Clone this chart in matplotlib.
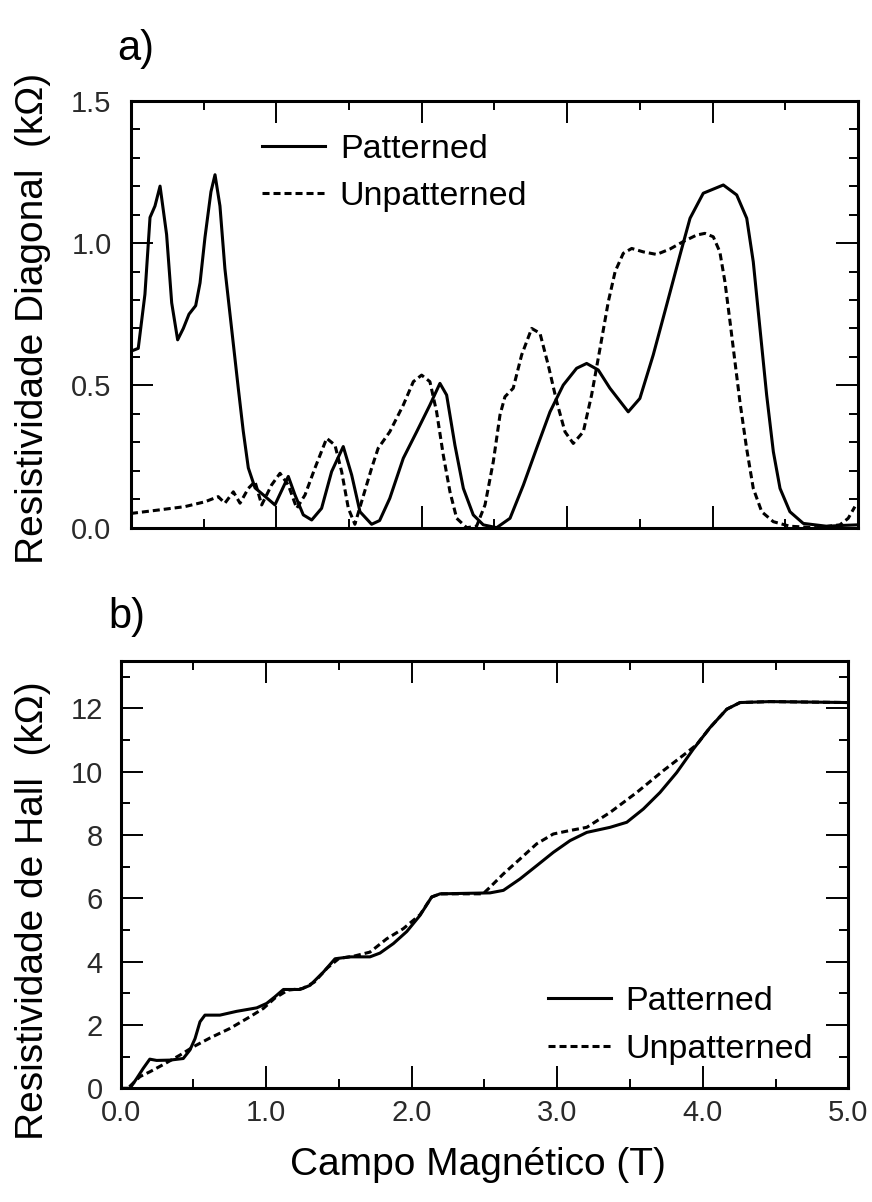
import matplotlib
matplotlib.use("Agg")
import matplotlib.pyplot as plt
from matplotlib.ticker import MultipleLocator, FixedLocator

plt.rcParams['font.family'] = ['Liberation Sans', 'DejaVu Sans']

# a) diagonal resistivity (kOhm) vs field (T)
diag_pat_B = [0.00, 0.05, 0.096, 0.131, 0.165, 0.20, 0.245, 0.28, 0.321, 0.36, 0.399, 0.445,
              0.475, 0.509, 0.55, 0.578, 0.612, 0.646, 0.692, 0.738, 0.772, 0.807, 0.853,
              0.922, 0.99, 1.036, 1.082, 1.128, 1.185, 1.243, 1.311, 1.38, 1.46, 1.518,
              1.575, 1.655, 1.71, 1.78, 1.873, 1.965, 2.056, 2.125, 2.171, 2.228, 2.286,
              2.354, 2.423, 2.515, 2.607, 2.699, 2.79, 2.882, 2.973, 3.065, 3.134, 3.214,
              3.294, 3.42, 3.5, 3.592, 3.684, 3.776, 3.845, 3.936, 4.074, 4.166, 4.235,
              4.28, 4.326, 4.372, 4.418, 4.464, 4.532, 4.624, 4.785, 4.9, 5.0]
diag_pat = [0.62, 0.63, 0.82, 1.09, 1.13, 1.20, 1.03, 0.79, 0.66, 0.70, 0.75, 0.78,
            0.86, 1.02, 1.18, 1.24, 1.13, 0.91, 0.70, 0.49, 0.34, 0.21, 0.14,
            0.11, 0.08, 0.13, 0.18, 0.115, 0.045, 0.027, 0.068, 0.197, 0.285, 0.185,
            0.056, 0.012, 0.025, 0.103, 0.244, 0.337, 0.431, 0.507, 0.466, 0.29, 0.138,
            0.045, 0.01, 0.0, 0.033, 0.15, 0.279, 0.407, 0.501, 0.56, 0.577, 0.554,
            0.49, 0.407, 0.454, 0.607, 0.782, 0.958, 1.087, 1.175, 1.204, 1.169, 1.087,
            0.934, 0.70, 0.466, 0.267, 0.138, 0.056, 0.015, 0.005, 0.008, 0.01]

diag_unp_B = [0.0, 0.188, 0.371, 0.509, 0.60, 0.646, 0.704, 0.75, 0.807, 0.853, 0.899, 0.967,
              1.025, 1.082, 1.14, 1.197, 1.265, 1.346, 1.403, 1.449, 1.495, 1.54, 1.586,
              1.655, 1.70, 1.78, 1.873, 1.942, 1.999, 2.056, 2.102, 2.148, 2.194, 2.24,
              2.309, 2.377, 2.435, 2.492, 2.538, 2.572, 2.629, 2.687, 2.756, 2.813, 2.87,
              2.928, 2.985, 3.042, 3.111, 3.168, 3.226, 3.283, 3.33, 3.386, 3.444, 3.523,
              3.615, 3.707, 3.798, 3.89, 3.947, 4.005, 4.05, 4.085, 4.12, 4.154, 4.188,
              4.234, 4.28, 4.338, 4.418, 4.532, 4.716, 4.876, 4.933, 4.979]
diag_unp = [0.05, 0.062, 0.074, 0.091, 0.109, 0.086, 0.126, 0.086, 0.138, 0.162, 0.08, 0.15,
            0.191, 0.15, 0.068, 0.115, 0.209, 0.314, 0.29, 0.197, 0.068, 0.012, 0.091,
            0.209, 0.279, 0.337, 0.431, 0.513, 0.536, 0.513, 0.407, 0.255, 0.126, 0.033,
            0.0, 0.005, 0.08, 0.232, 0.396, 0.46, 0.49, 0.607, 0.70, 0.683, 0.571,
            0.443, 0.337, 0.296, 0.337, 0.466, 0.63, 0.794, 0.90, 0.964, 0.981, 0.969,
            0.96, 0.979, 1.005, 1.028, 1.034, 1.022, 0.969, 0.864, 0.724, 0.583, 0.443,
            0.279, 0.138, 0.056, 0.021, 0.005, 0.0, 0.01, 0.033, 0.074]

# b) Hall resistivity (kOhm) vs field (T)
hall_pat_B = [0.0, 0.064, 0.11, 0.155, 0.20, 0.247, 0.339, 0.43, 0.476, 0.511, 0.545, 0.579,
              0.682, 0.797, 0.935, 1.003, 1.06, 1.118, 1.232, 1.301, 1.393, 1.473, 1.576,
              1.713, 1.782, 1.874, 1.966, 2.057, 2.137, 2.195, 2.538, 2.63, 2.744, 2.859,
              2.973, 3.088, 3.203, 3.363, 3.478, 3.592, 3.706, 3.821, 3.935, 4.05, 4.165,
              4.256, 4.462, 5.0]
hall_pat = [0.0, 0.0, 0.31, 0.63, 0.92, 0.88, 0.89, 0.94, 1.21, 1.57, 2.1, 2.31,
            2.31, 2.43, 2.54, 2.68, 2.89, 3.12, 3.12, 3.25, 3.67, 4.09, 4.15,
            4.15, 4.27, 4.57, 4.95, 5.46, 6.04, 6.14, 6.17, 6.25, 6.61, 7.03,
            7.45, 7.82, 8.08, 8.24, 8.40, 8.82, 9.34, 9.97, 10.71, 11.39, 11.97,
            12.18, 12.21, 12.18]

hall_unp_B = [0.06, 0.133, 0.20, 0.293, 0.408, 0.499, 0.614, 0.751, 0.889, 0.98, 1.06, 1.15,
              1.25, 1.33, 1.42, 1.50, 1.60, 1.713, 1.828, 1.942, 2.057, 2.137, 2.195, 2.49,
              2.538, 2.63, 2.744, 2.859, 2.973, 3.088, 3.203, 3.363, 3.546, 3.729, 3.89,
              3.958, 4.05, 4.165, 4.256, 4.462, 5.0]
hall_unp = [0.05, 0.37, 0.52, 0.75, 1.05, 1.31, 1.59, 1.89, 2.26, 2.52, 2.85, 3.1,
            3.15, 3.35, 3.8, 4.1, 4.17, 4.3, 4.72, 5.04, 5.48, 6.04, 6.14, 6.14,
            6.35, 6.77, 7.24, 7.72, 8.03, 8.14, 8.24, 8.71, 9.34, 10.03, 10.6,
            10.85, 11.39, 11.97, 12.18, 12.21, 12.18]

x_tick_labels = ["0.0", "1.0", "2.0", "3.0", "4.0", "5.0"]

fig = plt.figure(figsize=(8.72, 12.02), dpi=100)
ax1 = fig.add_axes([0.1502, 0.561, 0.8337, 0.3552])
ax2 = fig.add_axes([0.1384, 0.0946, 0.8344, 0.3557])

dash = (0, (2.3, 1.3))
lw = 2.2
for ax in (ax1, ax2):
    for s in ax.spines.values():
        s.set_linewidth(2.2)
    ax.tick_params(which='both', direction='in', top=True, right=True, width=1.4,
                   labelsize=21, labelcolor='#2a2a2a')
    ax.tick_params(which='major', length=16)
    ax.tick_params(which='minor', length=6.5)
    ax.set_xlim(0, 5)
    ax.xaxis.set_major_locator(FixedLocator([0, 1, 2, 3, 4, 5]))
    ax.xaxis.set_minor_locator(MultipleLocator(0.5))

# panel a
ax1.plot(diag_pat_B, diag_pat, color='black', lw=lw, solid_joinstyle='round', label='Patterned')
ax1.plot(diag_unp_B, diag_unp, color='black', lw=lw, linestyle=dash, label='Unpatterned')
ax1.set_ylim(0, 1.5)
ax1.yaxis.set_major_locator(MultipleLocator(0.5))
ax1.yaxis.set_minor_locator(MultipleLocator(0.1))
ax1.yaxis.set_major_formatter(plt.FuncFormatter(lambda v, p: f"{v:.1f}"))
ax1.tick_params(axis='x', labelbottom=False)
ax1.tick_params(axis='y', pad=14)
ax1.legend(loc='center left', bbox_to_anchor=(0.180, 0.831), frameon=False, fontsize=24.5,
           handlelength=1.85, handletextpad=0.44, labelspacing=0.47, borderpad=0,
           borderaxespad=0)

# panel b
ax2.plot(hall_pat_B, hall_pat, color='black', lw=lw, solid_joinstyle='round', label='Patterned')
ax2.plot(hall_unp_B, hall_unp, color='black', lw=lw, linestyle=dash, label='Unpatterned')
ax2.set_ylim(0, 13.5)
ax2.yaxis.set_major_locator(MultipleLocator(2))
ax2.yaxis.set_minor_locator(MultipleLocator(1))
ax2.set_xticklabels(x_tick_labels)
ax2.tick_params(axis='y', pad=13)
ax2.tick_params(axis='x', pad=8)
ax2.legend(loc='center left', bbox_to_anchor=(0.587, 0.147), frameon=False, fontsize=24.5,
           handlelength=1.85, handletextpad=0.44, labelspacing=0.5, borderpad=0,
           borderaxespad=0)

fig.text(0.134, 0.950, "a)", fontsize=30, ha='left', va='baseline')
fig.text(0.124, 0.4775, "b)", fontsize=30, ha='left', va='baseline')
fig.text(0.038, 0.7354, "Resistividade Diagonal  (kΩ)", fontsize=28, rotation=90,
         ha='center', va='center')
fig.text(0.038, 0.242, "Resistividade de Hall  (kΩ)", fontsize=28, rotation=90,
         ha='center', va='center')
fig.text(0.548, 0.031, "Campo Magnético (T)", fontsize=28, ha='center', va='center')

fig.savefig("out.png", dpi=100)
